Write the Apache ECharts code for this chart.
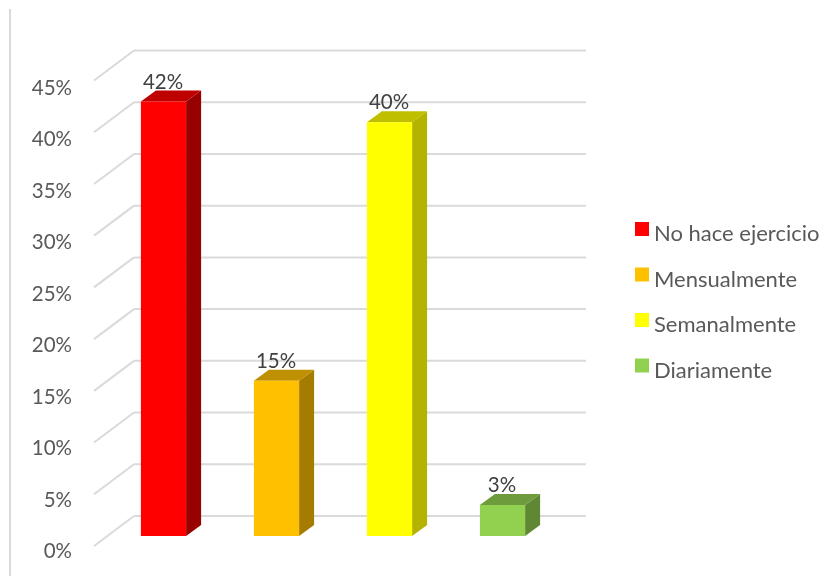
<!DOCTYPE html>
<html>
<head>
<meta charset="utf-8">
<style>html,body{margin:0;padding:0;background:#fff}#c{width:833px;height:576px}</style>
<script src="https://cdn.jsdelivr.net/npm/echarts@6/dist/echarts.min.js"></script>
</head>
<body>
<div id="c"></div>
<script>
const categories = ['No hace ejercicio', 'Mensualmente', 'Semanalmente', 'Diariamente'];
const values = [42, 15, 40, 3];
const tickValues = [0, 5, 10, 15, 20, 25, 30, 35, 40, 45];
const frontColors = ['#FF0000', '#FFC000', '#FFFF00', '#92D050'];
const topColors = ['#BF0000', '#BF9000', '#BFBF00', '#6E9C3C'];
const sideColors = ['#990000', '#A67C00', '#B3B300', '#5F8734'];

const FONT = 'Lato';
const BAR_DX = 15, BAR_DY = -11;
const BACK_DX = 27, BACK_DY = -20, FRONT_DX = -13, FRONT_DY = 10;
const GRID_COLOR = '#DADADA';

function renderWall(params, api) {
  const y = api.coord([0, api.value(0)])[1];
  const cs = params.coordSys;
  const lineStyle = { stroke: GRID_COLOR, lineWidth: 2, fill: null };
  return {
    type: 'group',
    children: [
      { type: 'line', shape: { x1: cs.x + BACK_DX, y1: y + BACK_DY, x2: cs.x + cs.width + BACK_DX, y2: y + BACK_DY }, style: lineStyle },
      { type: 'line', shape: { x1: cs.x + FRONT_DX, y1: y + FRONT_DY, x2: cs.x + BACK_DX, y2: y + BACK_DY }, style: lineStyle }
    ]
  };
}

function renderBar(i) {
  return function (params, api) {
    const top = api.coord([api.value(0), api.value(1)]);
    const base = api.coord([api.value(0), 0]);
    const w = api.size([1, 0])[0] * 0.4;
    const l = top[0] - w / 2, r = top[0] + w / 2;
    return {
      type: 'group',
      children: [
        { type: 'polygon', shape: { points: [[r, top[1]], [r + BAR_DX, top[1] + BAR_DY], [r + BAR_DX, base[1] + BAR_DY], [r, base[1]]] }, style: { fill: sideColors[i] } },
        { type: 'polygon', shape: { points: [[l, top[1]], [l + BAR_DX, top[1] + BAR_DY], [r + BAR_DX, top[1] + BAR_DY], [r, top[1]]] }, style: { fill: topColors[i] } },
        { type: 'rect', shape: { x: l, y: top[1], width: w, height: base[1] - top[1] }, style: { fill: frontColors[i] } },
        { type: 'text', x: top[0] - 0.5, y: top[1] - 19.5, style: { text: api.value(1) + '%', fill: '#404040', font: '20.5px ' + FONT, align: 'center', verticalAlign: 'middle' } }
      ]
    };
  };
}

const series = [{
  type: 'custom', name: 'walls', xAxisIndex: 0, yAxisIndex: 0, z: 1, silent: true,
  data: tickValues.map(v => [v]), encode: { y: 0 }, renderItem: renderWall, clip: false
}].concat(categories.map((name, i) => ({
  type: 'custom', name: name, xAxisIndex: 0, yAxisIndex: 0, z: 2 + i, silent: true,
  itemStyle: { color: frontColors[i] },
  data: [[i, values[i]]], encode: { x: 0, y: 1 }, renderItem: renderBar(i), clip: false
})));

const chart = echarts.init(document.getElementById('c'), null, { renderer: 'canvas' });
chart.setOption({
  animation: false,
  backgroundColor: '#fff',
  grid: [
    { left: 107, top: 70.5, width: 452, height: 465.5 },
    { left: 80, top: 88, width: 452, height: 463.4 }
  ],
  xAxis: [
    { type: 'category', gridIndex: 0, data: categories, show: false },
    { type: 'category', gridIndex: 1, data: categories, show: false }
  ],
  yAxis: [
    { type: 'value', gridIndex: 0, min: 0, max: 45, interval: 5, show: false },
    {
      type: 'value', gridIndex: 1, min: 0, max: 45, interval: 5,
      axisLine: { show: false }, axisTick: { show: false }, splitLine: { show: false },
      axisLabel: { formatter: '{value}%', margin: 8, color: '#595959', fontFamily: FONT, fontSize: 20.5 }
    }
  ],
  legend: {
    orient: 'vertical', left: 635, top: 222, padding: 0, icon: 'rect',
    itemWidth: 14, itemHeight: 14, itemGap: 22.5,
    data: categories, selectedMode: false,
    formatter: n => '{a|' + n + '}',
    textStyle: {
      color: '#595959', fontFamily: FONT, fontSize: 22,
      rich: { a: { color: '#595959', fontFamily: FONT, fontSize: 22, padding: [10, 0, 0, 0] } }
    }
  },
  graphic: [{
    type: 'line', silent: true, z: 0,
    shape: { x1: 10, y1: 9, x2: 10, y2: 576 },
    style: { stroke: GRID_COLOR, lineWidth: 2 }
  }],
  series: series
});
</script>
</body>
</html>
